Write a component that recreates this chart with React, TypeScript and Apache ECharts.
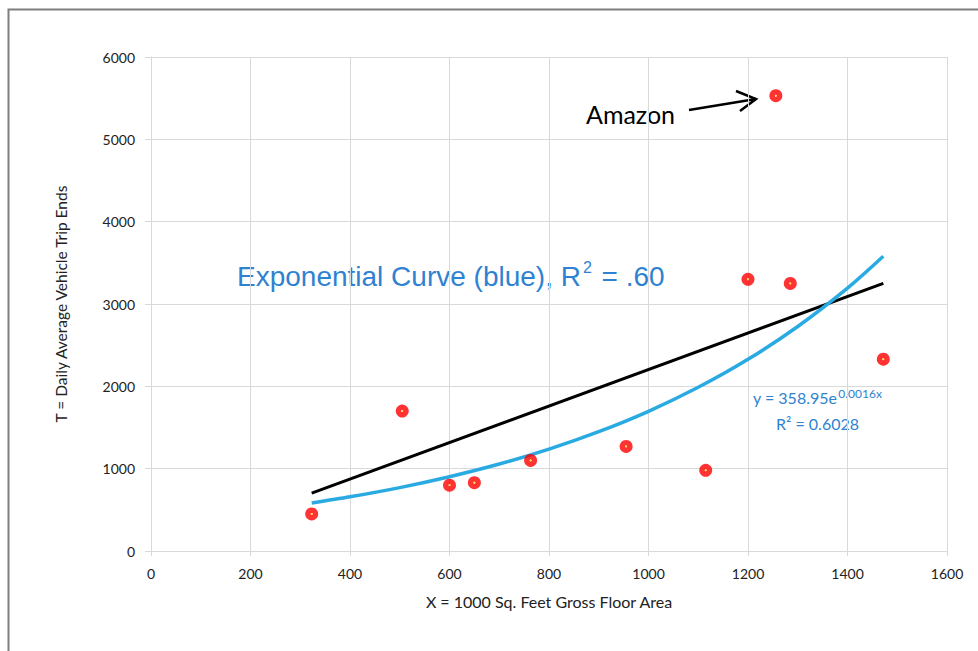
import React, { useEffect, useRef } from "react";
import * as echarts from "echarts";

const pointsX = [323, 505, 600, 650, 763, 955, 1115, 1200, 1285, 1472, 1256];
const pointsY = [450, 1700, 800, 830, 1100, 1270, 980, 3300, 3250, 2330, 5530];

const linearX = [323, 1472];
const linearY = [704, 3250];

const expX = [323, 400, 500, 600, 700, 800, 900, 1000, 1100, 1200, 1300, 1400, 1472];
const expY = [583, 658, 770, 902, 1056, 1237, 1449, 1697, 1988, 2328, 2727, 3193, 3580];

const xTicks = { min: 0, max: 1600, interval: 200 };
const yTicks = { min: 0, max: 6000, interval: 1000 };

const FONT = "Lato, 'Open Sans', sans-serif";
const ARIAL = "'Liberation Sans', Arial, sans-serif";
const BLUE_TEXT = "#2F82D2";

export default function App() {
  const ref = useRef<HTMLDivElement>(null);
  useEffect(() => {
    if (!ref.current) return;
    const chart = echarts.init(ref.current, null, { renderer: "svg" });
    const markerColor = {
      type: "radial",
      x: 0.5,
      y: 0.5,
      r: 0.5,
      colorStops: [
        { offset: 0, color: "#ffd23a" },
        { offset: 0.13, color: "#ffd23a" },
        { offset: 0.22, color: "#ff0000" },
        { offset: 1, color: "#ff0000" },
      ],
    };
    chart.setOption({
      animation: false,
      backgroundColor: "#ffffff",
      grid: { left: 151, right: 31, top: 57, bottom: 100, containLabel: false },
      xAxis: {
        type: "value",
        min: xTicks.min,
        max: xTicks.max,
        interval: xTicks.interval,
        name: "X = 1000 Sq. Feet Gross Floor Area",
        nameLocation: "middle",
        nameGap: 42,
        nameTextStyle: { fontFamily: FONT, fontSize: 16, color: "#222222" },
        axisLine: { show: true, lineStyle: { color: "#d9d9d9", width: 1 } },
        axisTick: { show: true, length: 5, lineStyle: { color: "#d9d9d9" } },
        axisLabel: { margin: 15, fontFamily: FONT, fontSize: 14, color: "#222222", formatter: (v: number) => String(v) },
        splitLine: { show: true, lineStyle: { color: "#d9d9d9", width: 1 } },
      },
      yAxis: {
        type: "value",
        min: yTicks.min,
        max: yTicks.max,
        interval: yTicks.interval,
        name: "T = Daily Average Vehicle Trip Ends",
        nameLocation: "middle",
        nameGap: 82,
        nameTextStyle: { fontFamily: FONT, fontSize: 15.5, color: "#222222" },
        axisLine: { show: true, lineStyle: { color: "#d9d9d9", width: 1 } },
        axisTick: { show: true, length: 6, lineStyle: { color: "#d9d9d9" } },
        axisLabel: { margin: 16, fontFamily: FONT, fontSize: 14, color: "#222222", formatter: (v: number) => String(v) },
        splitLine: { show: true, lineStyle: { color: "#d9d9d9", width: 1 } },
      },
      series: [
        {
          type: "line",
          data: linearX.map((x, i) => [x, linearY[i]]),
          showSymbol: false,
          symbol: "none",
          lineStyle: { color: "#000000", width: 3 },
          z: 2,
        },
        {
          type: "line",
          data: expX.map((x, i) => [x, expY[i]]),
          smooth: 0.3,
          showSymbol: false,
          symbol: "none",
          lineStyle: { color: "#2aaae2", width: 3.5 },
          z: 3,
        },
        {
          type: "scatter",
          data: pointsX.map((x, i) => [x, pointsY[i]]),
          symbol: "circle",
          symbolSize: 13,
          itemStyle: { color: markerColor },
          z: 4,
        },
      ],
      graphic: [
        {
          type: "polyline",
          shape: { points: [[8.5, 651], [8.5, 9.5], [978, 9.5]] },
          style: { stroke: "#7f7f7f", lineWidth: 2, fill: "none" },
        },
        {
          type: "text",
          left: 237,
          top: 259,
          style: {
            text: "{a|Exponential Curve (blue), R}{s|2}{a| = .60}",
            rich: {
              a: { fontFamily: ARIAL, fontSize: 28, fill: BLUE_TEXT, color: BLUE_TEXT },
              s: { fontFamily: ARIAL, fontSize: 16, fill: BLUE_TEXT, color: BLUE_TEXT, padding: [0, 2, 18, 2] },
            },
          },
        },
        {
          type: "text",
          left: 586,
          top: 101,
          style: {
            text: "Amazon",
            fontFamily: FONT,
            fontSize: 25,
            fill: "#000000",
          },
        },
        {
          type: "line",
          shape: { x1: 689, y1: 110, x2: 756, y2: 99 },
          style: { stroke: "#000000", lineWidth: 2.5 },
        },
        {
          type: "polyline",
          shape: { points: [[736, 91], [756, 99], [740, 111]] },
          style: { stroke: "#000000", lineWidth: 2.5, fill: "none" },
        },
        {
          type: "text",
          left: 753,
          top: 387,
          style: {
            text: "{a|y = 358.95e}{s|0.0016x}",
            rich: {
              a: { fontFamily: FONT, fontSize: 16, fill: BLUE_TEXT, color: BLUE_TEXT },
              s: { fontFamily: FONT, fontSize: 12, fill: BLUE_TEXT, color: BLUE_TEXT, padding: [0, 0, 9, 1] },
            },
          },
        },
        {
          type: "text",
          left: 776,
          top: 415,
          style: {
            text: "R² = 0.6028",
            fontFamily: FONT,
            fontSize: 16,
            fill: BLUE_TEXT,
          },
        },
      ],
    });
    return () => chart.dispose();
  }, []);
  return (
    <div
      ref={ref}
      style={{ position: "fixed", left: 0, top: 0, width: 978, height: 651, background: "#fff" }}
    />
  );
}
